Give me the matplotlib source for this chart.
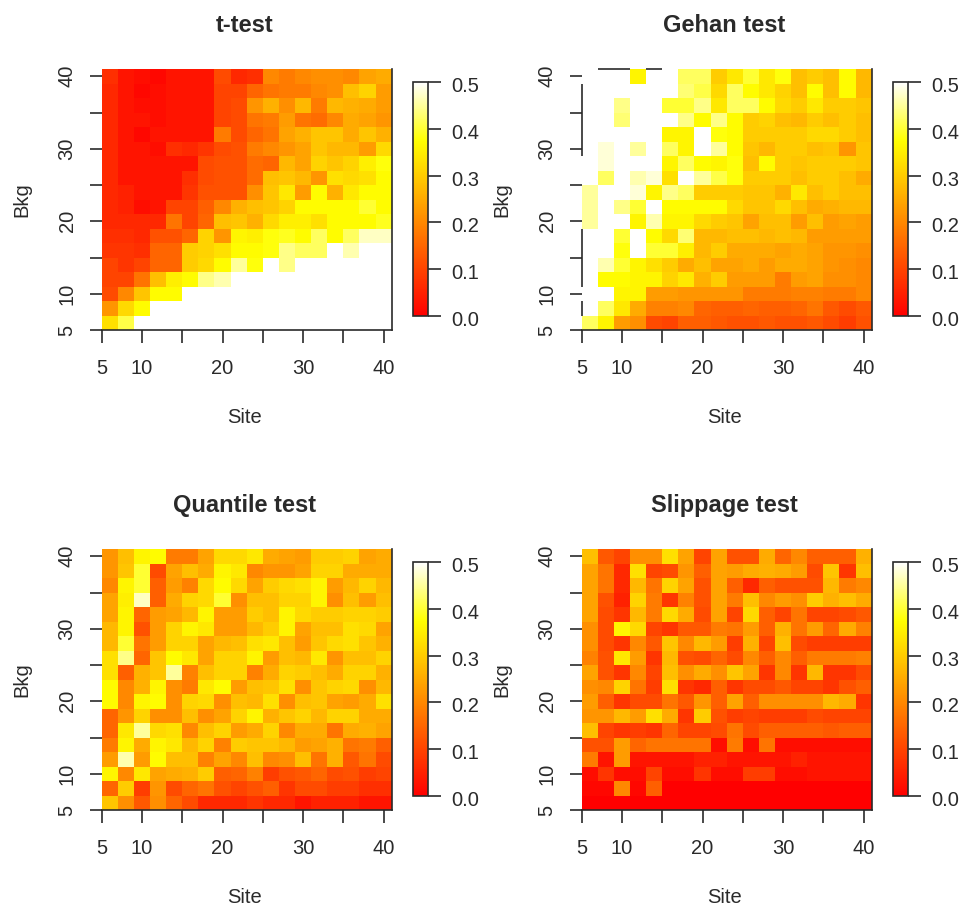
import numpy as np
import matplotlib
matplotlib.use("Agg")
import matplotlib.pyplot as plt
from matplotlib.colors import LinearSegmentedColormap
from matplotlib.transforms import ScaledTranslation

plt.rcParams['font.family'] = ['Liberation Sans', 'DejaVu Sans']

W, H = 968, 911
X = 99  # not tested cell, left empty in the plot

# cell edges on both axes
edges = list(range(5, 42, 2))
tick_pos = [5, 10, 15, 20, 25, 30, 35, 40]
tick_lab = ['5', '10', '', '20', '', '30', '', '40']
cbar_ticks = [0.0, 0.1, 0.2, 0.3, 0.4, 0.5]

# values in hundredths, first row is the top of the picture
t_test = [
    [7, 3, 2, 1, 3, 3, 3, 11, 6, 7, 20, 18, 20, 21, 21, 20, 24, 25],
    [6, 3, 1, 2, 3, 3, 3, 10, 10, 15, 17, 18, 18, 20, 21, 28, 31, 23],
    [6, 3, 2, 2, 3, 3, 3, 10, 11, 22, 26, 21, 27, 18, 27, 26, 25, 23],
    [6, 3, 3, 2, 3, 3, 3, 10, 11, 17, 18, 23, 17, 16, 20, 25, 24, 22],
    [6, 3, 1, 3, 3, 3, 3, 18, 11, 15, 17, 24, 26, 29, 29, 25, 29, 26],
    [6, 3, 3, 2, 7, 6, 8, 11, 12, 18, 20, 22, 24, 29, 27, 27, 23, 32],
    [6, 3, 3, 3, 3, 3, 11, 12, 12, 16, 15, 27, 24, 31, 29, 31, 35, 38],
    [6, 3, 3, 3, 3, 7, 11, 12, 12, 16, 28, 29, 27, 22, 33, 32, 33, 37],
    [6, 5, 3, 3, 3, 8, 12, 12, 12, 21, 29, 34, 23, 37, 26, 34, 37, 37],
    [6, 5, 2, 3, 10, 10, 14, 20, 26, 28, 29, 31, 37, 37, 37, 37, 40, 37],
    [6, 6, 6, 6, 17, 10, 15, 28, 29, 26, 32, 35, 35, 33, 37, 37, 37, 39],
    [7, 7, 6, 12, 12, 15, 31, 22, 36, 35, 38, 39, 37, 42, 37, 42, 47, 47],
    [8, 8, 7, 15, 15, 30, 31, 33, 37, 37, 38, 44, 42, 42, 50, 46, 50, 50],
    [10, 8, 10, 15, 15, 30, 32, 37, 45, 38, 50, 44, 50, 50, 50, 50, 50, 50],
    [10, 10, 17, 28, 35, 37, 44, 46, 50, 50, 50, 50, 50, 50, 50, 50, 50, 50],
    [11, 20, 29, 37, 37, 50, 50, 50, 50, 50, 50, 50, 50, 50, 50, 50, 50, 50],
    [22, 32, 37, 50, 50, 50, 50, 50, 50, 50, 50, 50, 50, 50, 50, 50, 50, 50],
    [33, 41, 50, 50, 50, 50, 50, 50, 50, 50, 50, 50, 50, 50, 50, 50, 50, 50],
]
gehan = [
    [50, X, X, 36, X, 50, 42, 42, 30, 34, 40, 34, 38, 28, 30, 28, 37, 27],
    [X, 50, 50, 50, 50, 50, 43, 41, 32, 42, 37, 34, 31, 28, 37, 28, 37, 27],
    [X, 50, 44, 50, 50, 40, 40, 44, 34, 42, 42, 37, 32, 30, 34, 30, 30, 29],
    [X, 50, 43, 50, 50, 50, 44, 37, 44, 37, 30, 31, 28, 27, 30, 28, 30, 28],
    [X, 50, 50, 50, 50, 36, 36, 50, 38, 37, 30, 30, 30, 30, 32, 32, 30, 28],
    [X, 48, 50, 45, 50, 42, 36, 50, 45, 37, 29, 27, 30, 30, 28, 29, 22, 29],
    [50, 48, 50, 50, 50, 36, 42, 37, 36, 38, 28, 37, 30, 29, 30, 30, 30, 29],
    [50, 42, 50, 46, 48, 33, 50, 45, 41, 38, 30, 30, 30, 28, 30, 30, 28, 25],
    [45, 50, 50, 48, 36, 44, 42, 30, 30, 30, 29, 29, 26, 34, 28, 30, 28, 28],
    [45, 50, 44, 40, 50, 37, 37, 37, 37, 32, 29, 29, 32, 28, 25, 26, 27, 27],
    [45, 50, 50, 36, 46, 36, 36, 32, 30, 29, 24, 28, 28, 23, 28, 23, 24, 23],
    [X, 50, 40, 50, 37, 32, 43, 27, 27, 28, 28, 27, 28, 27, 23, 23, 23, 23],
    [X, 50, 38, 50, 40, 40, 35, 27, 30, 25, 25, 25, 24, 25, 24, 22, 22, 21],
    [X, 46, 40, 36, 33, 30, 25, 28, 24, 24, 25, 23, 25, 25, 24, 22, 21, 20],
    [X, 37, 37, 36, 36, 31, 34, 26, 30, 23, 23, 23, 18, 23, 24, 21, 21, 20],
    [50, 50, 36, 36, 23, 23, 22, 22, 22, 22, 18, 18, 18, 19, 19, 18, 18, 20],
    [X, 42, 34, 25, 19, 19, 20, 15, 14, 14, 15, 14, 14, 15, 17, 13, 11, 13],
    [42, 36, 23, 21, 11, 10, 14, 14, 13, 12, 12, 13, 12, 12, 13, 11, 9, 12],
]
quantile = [
    [22, 28, 36, 37, 18, 18, 24, 32, 32, 34, 25, 24, 23, 30, 30, 31, 24, 25],
    [22, 29, 40, 11, 24, 28, 25, 36, 34, 20, 22, 22, 24, 31, 31, 25, 25, 25],
    [20, 36, 40, 14, 23, 19, 32, 37, 32, 24, 30, 32, 33, 36, 23, 27, 31, 27],
    [24, 35, 47, 14, 25, 31, 32, 40, 21, 28, 28, 31, 31, 36, 21, 28, 23, 28],
    [24, 36, 15, 23, 24, 27, 36, 23, 23, 30, 28, 36, 32, 30, 30, 31, 31, 30],
    [27, 36, 12, 23, 31, 36, 34, 23, 23, 27, 30, 36, 24, 28, 28, 33, 32, 24],
    [27, 40, 17, 23, 31, 31, 24, 27, 28, 33, 34, 28, 23, 29, 32, 33, 29, 26],
    [33, 44, 15, 29, 37, 34, 24, 31, 31, 36, 23, 28, 27, 34, 22, 28, 28, 31],
    [33, 14, 26, 29, 45, 19, 28, 31, 31, 19, 25, 31, 30, 28, 25, 31, 31, 26],
    [37, 20, 26, 36, 21, 18, 34, 37, 23, 28, 29, 33, 21, 29, 31, 32, 21, 27],
    [37, 20, 36, 37, 21, 31, 32, 21, 28, 27, 33, 21, 28, 29, 24, 23, 25, 33],
    [15, 22, 31, 21, 21, 28, 21, 24, 31, 36, 26, 29, 31, 27, 31, 31, 25, 25],
    [15, 34, 45, 32, 33, 20, 28, 31, 23, 25, 31, 20, 25, 25, 17, 25, 26, 24],
    [18, 36, 25, 36, 34, 27, 31, 19, 30, 29, 29, 27, 23, 24, 26, 17, 18, 14],
    [23, 46, 23, 37, 28, 28, 19, 24, 20, 28, 20, 21, 28, 17, 26, 13, 17, 11],
    [36, 20, 34, 24, 25, 26, 30, 14, 15, 19, 9, 12, 13, 15, 11, 12, 9, 10],
    [15, 30, 9, 22, 11, 15, 17, 12, 10, 12, 14, 8, 11, 11, 9, 9, 7, 7],
    [29, 21, 13, 21, 15, 11, 6, 6, 6, 8, 6, 6, 3, 5, 5, 5, 3, 3],
]
slippage = [
    [28, 13, 10, 21, 21, 33, 24, 10, 24, 12, 12, 25, 15, 20, 14, 14, 14, 26],
    [24, 17, 6, 33, 10, 11, 22, 14, 24, 23, 25, 26, 25, 23, 11, 29, 8, 28],
    [24, 17, 6, 27, 17, 31, 24, 12, 24, 14, 6, 14, 12, 12, 12, 27, 18, 20],
    [24, 12, 5, 31, 18, 8, 19, 12, 24, 18, 28, 20, 23, 21, 30, 26, 28, 25],
    [24, 11, 8, 27, 18, 32, 25, 11, 24, 10, 32, 14, 10, 17, 10, 10, 11, 13],
    [21, 11, 36, 32, 10, 8, 13, 13, 18, 17, 23, 14, 26, 17, 23, 15, 25, 19],
    [21, 11, 8, 20, 13, 29, 20, 27, 23, 9, 26, 10, 28, 11, 9, 9, 9, 9],
    [19, 12, 34, 23, 8, 27, 12, 11, 15, 11, 20, 14, 20, 14, 18, 18, 18, 19],
    [24, 12, 8, 20, 10, 28, 21, 25, 21, 29, 24, 8, 20, 8, 27, 8, 8, 11],
    [21, 20, 31, 17, 9, 33, 8, 6, 14, 8, 11, 11, 13, 10, 10, 8, 12, 14],
    [23, 14, 8, 11, 11, 17, 13, 22, 14, 24, 14, 21, 21, 21, 21, 27, 25, 8],
    [22, 22, 27, 23, 33, 25, 8, 30, 12, 9, 10, 9, 9, 9, 11, 10, 10, 10],
    [28, 10, 8, 9, 8, 15, 10, 10, 11, 17, 11, 14, 14, 14, 14, 13, 14, 14],
    [12, 12, 23, 15, 17, 17, 17, 17, 2, 18, 2, 17, 2, 2, 2, 2, 2, 2],
    [18, 3, 23, 3, 3, 3, 3, 5, 5, 3, 3, 3, 3, 5, 3, 3, 3, 3],
    [2, 8, 2, 2, 10, 2, 2, 8, 2, 2, 9, 9, 2, 2, 3, 3, 3, 3],
    [1, 1, 20, 1, 14, 0, 0, 0, 0, 0, 0, 0, 0, 0, 0, 0, 0, 0],
    [0, 0, 0, 0, 0, 0, 0, 0, 0, 0, 0, 0, 0, 0, 0, 0, 0, 0],
]
titles = ['t-test', 'Gehan test', 'Quantile test', 'Slippage test']
panels = [t_test, gehan, quantile, slippage]

heat = LinearSegmentedColormap.from_list(
    'heat', [(0, '#ff0000'), (0.75, '#ffff00'), (1, '#ffffff')], N=256)
ink = '#2a2a2a'


def box(left, top, right, bottom):
    return [left / W, 1 - bottom / H, (right - left) / W, (bottom - top) / H]


fig = plt.figure(figsize=(W / 100, H / 100), dpi=100)

for i in range(4):
    dx = 480 * (i % 2)
    dy = 480 * (i // 2)
    ax = fig.add_axes(box(101.7 + dx, 69 + dy, 391.7 + dx, 330 + dy))
    vals = np.array(panels[i], dtype=float)[::-1]
    vals[vals == X] = np.nan
    mesh = ax.pcolormesh(edges, edges, vals / 100, cmap=heat, vmin=0, vmax=0.5)
    ax.set_xlim(5, 41)
    ax.set_ylim(5, 41)

    # the box only shows through on the empty cells of the top and left edge
    ax.spines['top'].set_visible(False)
    ax.spines['left'].set_visible(False)
    for s in ['right', 'bottom']:
        ax.spines[s].set_linewidth(1.2)
        ax.spines[s].set_color(ink)
    for k in range(18):
        if np.isnan(vals[17, k]):
            ax.hlines(41, edges[k], edges[k + 1], color=ink, lw=1.2, clip_on=False)
        if np.isnan(vals[k, 0]):
            ax.vlines(5, edges[k], edges[k + 1], color=ink, lw=1.2, clip_on=False)

    ax.set_xticks(tick_pos)
    ax.set_xticklabels(tick_lab)
    ax.set_yticks(tick_pos)
    ax.set_yticklabels(tick_lab, rotation=90, va='center')
    ax.tick_params(axis='x', length=9, width=1.2, color=ink, labelcolor=ink, labelsize=14.5, pad=12)
    ax.tick_params(axis='y', length=9, width=1.2, color=ink, labelcolor=ink, labelsize=14.5, pad=9)
    ax.set_xlabel('Site', fontsize=14.5, color=ink, labelpad=21.5, x=0.493)
    ax.set_ylabel('Bkg', fontsize=14.5, color=ink, labelpad=19)
    ax.set_title(titles[i], fontsize=17, fontweight='bold', color=ink, pad=26.5, x=0.493)

    cax = fig.add_axes(box(413 + dx, 82 + dy, 428 + dx, 316 + dy))
    cb = fig.colorbar(mesh, cax=cax, ticks=cbar_ticks)
    cb.ax.set_yticklabels(['%.1f' % t for t in cbar_ticks])
    cb.ax.tick_params(length=9.5, width=1.2, color=ink, labelcolor=ink, labelsize=14.5, pad=7)
    cb.outline.set_linewidth(1.2)
    cb.outline.set_edgecolor(ink)
    # labels sit a little below their ticks
    shift = ScaledTranslation(0, -2.5 / 100, fig.dpi_scale_trans)
    for lab in cb.ax.get_yticklabels():
        lab.set_transform(lab.get_transform() + shift)

fig.savefig('out.png', dpi=100)
